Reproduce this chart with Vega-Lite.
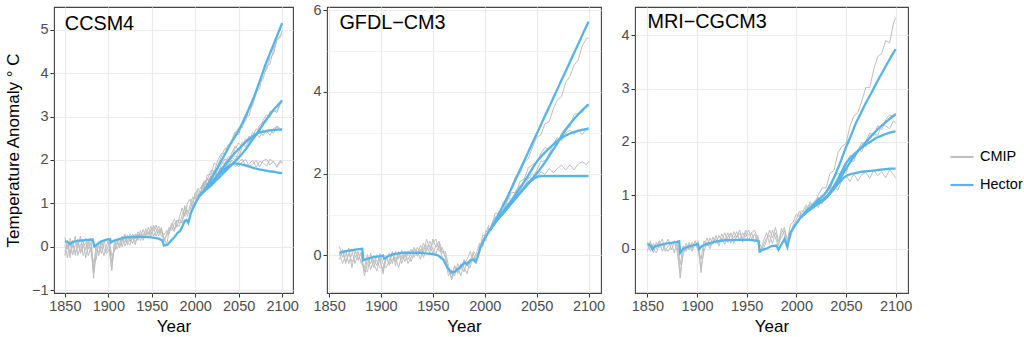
{
"$schema":"https://vega.github.io/schema/vega-lite/v6.json",
"background":"white",
"padding":{"left":3,"top":1,"right":5,"bottom":3},
"bounds":"flush",
"spacing":34,
"config":{
 "font":"Liberation Sans",
 "view":{"stroke":"#444444","strokeWidth":1.1},
 "axis":{"domain":false,"tickColor":"#333333","tickSize":4,"tickWidth":1,"labelColor":"#4d4d4d","labelFontSize":14.5,"labelPadding":2,"titleFontSize":17,"titleFontWeight":"normal","titleColor":"#000000","gridColor":"#ebebeb","labelFont":"Liberation Sans","titleFont":"Liberation Sans"},
 "legend":{"labelFont":"Liberation Sans"}
},
"datasets":{
"cc_h":[
{"yr":1850,"a":0.22,"b":-0.2,"c":0.05,"d":-0.1},{"yr":1853,"a":-0.05,"b":0.15,"c":-0.25,"d":0.05},{"yr":1856,"a":0.12,"b":-0.25,"c":0.2,"d":-0.15},{"yr":1859,"a":-0.18,"b":0.05,"c":0.0,"d":0.15},{"yr":1862,"a":0.05,"b":-0.12,"c":0.25,"d":-0.2},{"yr":1865,"a":0.18,"b":0.02,"c":-0.2,"d":0.1},{"yr":1868,"a":-0.1,"b":0.25,"c":0.05,"d":-0.15},{"yr":1871,"a":0.08,"b":-0.2,"c":0.15,"d":0.0},{"yr":1874,"a":0.2,"b":-0.02,"c":-0.25,"d":0.1},{"yr":1877,"a":-0.05,"b":0.15,"c":0.05,"d":-0.2},{"yr":1880,"a":0.1,"b":-0.12,"c":0.2,"d":0.0},{"yr":1883,"a":-0.72,"b":-0.35,"c":-0.5,"d":-0.6},{"yr":1886,"a":-0.1,"b":-0.3,"c":0.05,"d":-0.15},{"yr":1889,"a":0.05,"b":0.12,"c":-0.2,"d":-0.1},{"yr":1892,"a":-0.15,"b":0.0,"c":0.15,"d":0.05},{"yr":1895,"a":0.1,"b":-0.2,"c":-0.05,"d":0.15},{"yr":1898,"a":0.18,"b":0.05,"c":-0.15,"d":-0.1},{"yr":1901,"a":0.0,"b":0.15,"c":-0.05,"d":0.1},{"yr":1904,"a":-0.5,"b":-0.2,"c":-0.55,"d":-0.35},{"yr":1907,"a":0.05,"b":-0.1,"c":0.15,"d":-0.05},{"yr":1910,"a":0.15,"b":0.05,"c":-0.05,"d":0.1},{"yr":1913,"a":-0.02,"b":0.2,"c":0.1,"d":0.05},{"yr":1916,"a":0.2,"b":0.0,"c":0.25,"d":0.12},{"yr":1919,"a":0.1,"b":0.25,"c":0.02,"d":0.3},{"yr":1922,"a":0.28,"b":0.05,"c":0.15,"d":0.1},{"yr":1925,"a":0.12,"b":0.22,"c":0.3,"d":0.05},{"yr":1928,"a":0.3,"b":0.08,"c":0.2,"d":0.25},{"yr":1931,"a":0.18,"b":0.3,"c":0.05,"d":0.12},{"yr":1934,"a":0.35,"b":0.15,"c":0.3,"d":0.22},{"yr":1937,"a":0.22,"b":0.38,"c":0.15,"d":0.3},{"yr":1940,"a":0.4,"b":0.2,"c":0.3,"d":0.15},{"yr":1943,"a":0.25,"b":0.42,"c":0.35,"d":0.3},{"yr":1946,"a":0.45,"b":0.28,"c":0.2,"d":0.35},{"yr":1949,"a":0.3,"b":0.48,"c":0.4,"d":0.25},{"yr":1952,"a":0.38,"b":0.25,"c":0.45,"d":0.5},{"yr":1955,"a":0.5,"b":0.35,"c":0.25,"d":0.4},{"yr":1958,"a":0.32,"b":0.48,"c":0.4,"d":0.25},{"yr":1961,"a":0.42,"b":0.25,"c":0.35,"d":0.45},{"yr":1964,"a":0.12,"b":0.22,"c":0.28,"d":0.18},{"yr":1967,"a":0.3,"b":0.05,"c":0.38,"d":0.25},{"yr":1970,"a":0.45,"b":0.35,"c":0.3,"d":0.4},{"yr":1973,"a":0.38,"b":0.55,"c":0.5,"d":0.45},{"yr":1976,"a":0.55,"b":0.4,"c":0.65,"d":0.35},{"yr":1979,"a":0.5,"b":0.62,"c":0.45,"d":0.6},{"yr":1982,"a":0.48,"b":0.55,"c":0.7,"d":0.62},{"yr":1985,"a":0.75,"b":0.6,"c":0.9,"d":0.55},{"yr":1988,"a":0.9,"b":0.8,"c":0.7,"d":0.95},{"yr":1991,"a":0.7,"b":0.85,"c":1.0,"d":0.8},{"yr":1994,"a":0.95,"b":0.75,"c":1.1,"d":0.85},{"yr":1997,"a":1.15,"b":0.95,"c":0.9,"d":1.05},{"yr":2000,"a":1.1,"b":1.25,"c":1.05,"d":1.2},{"yr":2003,"a":1.3,"b":1.15,"c":1.2,"d":1.35},{"yr":2005,"a":1.35,"b":1.3,"c":1.25,"d":1.28}],
"cc_f":[
{"yr":2006,"p1":1.36,"p2":1.23,"q1":1.33,"q2":1.26,"r1":1.23,"r2":1.36,"s1":1.26,"s2":1.33},
{"yr":2010,"p1":1.38,"p2":1.51,"q1":1.49,"q2":1.41,"r1":1.47,"r2":1.34,"s1":1.42,"s2":1.5},
{"yr":2014,"p1":1.66,"p2":1.55,"q1":1.41,"q2":1.55,"r1":1.45,"r2":1.56,"s1":1.58,"s2":1.44},
{"yr":2018,"p1":1.67,"p2":1.76,"q1":1.6,"q2":1.46,"r1":1.62,"r2":1.53,"s1":1.5,"s2":1.64},
{"yr":2022,"p1":1.93,"p2":1.74,"q1":1.71,"q2":1.69,"r1":1.56,"r2":1.75,"s1":1.73,"s2":1.75},
{"yr":2026,"p1":1.87,"p2":2.0,"q1":1.62,"q2":1.81,"r1":1.8,"r2":1.67,"s1":1.83,"s2":1.64},
{"yr":2030,"p1":2.09,"p2":2.15,"q1":1.82,"q2":1.74,"r1":1.95,"r2":1.89,"s1":1.74,"s2":1.82},
{"yr":2034,"p1":2.26,"p2":2.15,"q1":1.81,"q2":1.92,"r1":1.91,"r2":2.02,"s1":1.9,"s2":1.79},
{"yr":2038,"p1":2.27,"p2":2.36,"q1":2.01,"q2":1.89,"r1":2.08,"r2":1.99,"s1":1.85,"s2":1.97},
{"yr":2042,"p1":2.47,"p2":2.37,"q1":2.05,"q2":2.09,"r1":2.06,"r2":2.16,"s1":2.0,"s2":1.96},
{"yr":2046,"p1":2.65,"p2":2.6,"q1":2.0,"q2":2.09,"r1":2.27,"r2":2.32,"s1":1.93,"s2":1.84},
{"yr":2050,"p1":2.58,"p2":2.74,"q1":2.18,"q2":2.07,"r1":2.39,"r2":2.23,"s1":1.84,"s2":1.95},
{"yr":2054,"p1":2.84,"p2":2.74,"q1":2.35,"q2":2.29,"r1":2.31,"r2":2.41,"s1":1.96,"s2":2.02},
{"yr":2058,"p1":2.89,"p2":3.0,"q1":2.31,"q2":2.44,"r1":2.49,"r2":2.38,"s1":2.01,"s2":1.88},
{"yr":2062,"p1":3.18,"p2":3.02,"q1":2.43,"q2":2.4,"r1":2.39,"r2":2.55,"s1":1.87,"s2":1.9},
{"yr":2066,"p1":3.24,"p2":3.33,"q1":2.63,"q2":2.52,"r1":2.54,"r2":2.45,"s1":1.89,"s2":2.0},
{"yr":2070,"p1":3.53,"p2":3.56,"q1":2.56,"q2":2.72,"r1":2.61,"r2":2.58,"s1":1.99,"s2":1.83},
{"yr":2074,"p1":3.79,"p2":3.64,"q1":2.8,"q2":2.67,"r1":2.52,"r2":2.67,"s1":1.84,"s2":1.97},
{"yr":2078,"p1":3.85,"p2":3.99,"q1":2.87,"q2":2.91,"r1":2.7,"r2":2.56,"s1":1.98,"s2":1.94},
{"yr":2082,"p1":4.16,"p2":4.08,"q1":2.88,"q2":3.04,"r1":2.61,"r2":2.69,"s1":2.02,"s2":1.86},
{"yr":2086,"p1":4.21,"p2":4.35,"q1":3.12,"q2":2.98,"r1":2.71,"r2":2.57,"s1":1.88,"s2":2.02},
{"yr":2090,"p1":4.54,"p2":4.43,"q1":3.13,"q2":3.15,"r1":2.61,"r2":2.72,"s1":1.97,"s2":1.95},
{"yr":2094,"p1":4.75,"p2":4.76,"q1":3.13,"q2":3.09,"r1":2.78,"r2":2.77,"s1":1.83,"s2":1.87},
{"yr":2098,"p1":4.83,"p2":4.87,"q1":3.33,"q2":3.29,"r1":2.72,"r2":2.68,"s1":1.95,"s2":1.99},
{"yr":2100,"p1":4.97,"p2":4.92,"q1":3.3,"q2":3.35,"r1":2.69,"r2":2.74,"s1":1.97,"s2":1.92}],
"cc_hh":[
{"yr":1850,"v":0.13},{"yr":1853,"v":0.12},{"yr":1856,"v":0.06},{"yr":1858,"v":0.1},{"yr":1862,"v":0.13},{"yr":1870,"v":0.15},{"yr":1876,"v":0.16},{"yr":1882,"v":0.17},{"yr":1884,"v":0.01},{"yr":1887,"v":0.06},{"yr":1892,"v":0.13},{"yr":1898,"v":0.17},{"yr":1902,"v":0.18},{"yr":1903,"v":0.1},{"yr":1906,"v":0.14},{"yr":1912,"v":0.18},{"yr":1920,"v":0.22},{"yr":1930,"v":0.23},{"yr":1940,"v":0.23},{"yr":1950,"v":0.22},{"yr":1958,"v":0.19},{"yr":1962,"v":0.15},{"yr":1964,"v":0.03},{"yr":1968,"v":0.05},{"yr":1972,"v":0.14},{"yr":1976,"v":0.22},{"yr":1980,"v":0.33},{"yr":1982,"v":0.35},{"yr":1984,"v":0.42},{"yr":1988,"v":0.6},{"yr":1990,"v":0.62},{"yr":1992,"v":0.55},{"yr":1995,"v":0.78},{"yr":2000,"v":1.0},{"yr":2005,"v":1.18}],
"cc_hf":[
{"yr":2005,"h26":1.18,"h45":1.18,"h60":1.18,"h85":1.18},{"yr":2010,"h26":1.28,"h45":1.28,"h60":1.27,"h85":1.3},{"yr":2015,"h26":1.39,"h45":1.39,"h60":1.36,"h85":1.45},{"yr":2020,"h26":1.5,"h45":1.5,"h60":1.45,"h85":1.62},{"yr":2025,"h26":1.62,"h45":1.64,"h60":1.55,"h85":1.8},{"yr":2030,"h26":1.72,"h45":1.78,"h60":1.65,"h85":1.98},{"yr":2035,"h26":1.81,"h45":1.91,"h60":1.75,"h85":2.16},{"yr":2040,"h26":1.88,"h45":2.03,"h60":1.85,"h85":2.35},{"yr":2045,"h26":1.92,"h45":2.15,"h60":1.95,"h85":2.51},{"yr":2050,"h26":1.91,"h45":2.25,"h60":2.05,"h85":2.68},{"yr":2055,"h26":1.89,"h45":2.35,"h60":2.17,"h85":2.88},{"yr":2060,"h26":1.86,"h45":2.45,"h60":2.3,"h85":3.1},{"yr":2065,"h26":1.83,"h45":2.53,"h60":2.44,"h85":3.33},{"yr":2070,"h26":1.8,"h45":2.6,"h60":2.58,"h85":3.58},{"yr":2075,"h26":1.78,"h45":2.64,"h60":2.73,"h85":3.86},{"yr":2080,"h26":1.76,"h45":2.66,"h60":2.88,"h85":4.15},{"yr":2085,"h26":1.74,"h45":2.68,"h60":3.02,"h85":4.4},{"yr":2090,"h26":1.73,"h45":2.69,"h60":3.15,"h85":4.65},{"yr":2095,"h26":1.71,"h45":2.7,"h60":3.26,"h85":4.9},{"yr":2100,"h26":1.7,"h45":2.7,"h60":3.37,"h85":5.15}],
"gf_h":[
{"yr":1860,"a":0.22,"b":-0.1,"c":0.05,"d":0.0},{"yr":1863,"a":-0.05,"b":0.15,"c":-0.2,"d":0.1},{"yr":1866,"a":0.12,"b":-0.2,"c":0.02,"d":-0.15},{"yr":1869,"a":-0.2,"b":0.05,"c":0.18,"d":0.05},{"yr":1872,"a":0.05,"b":-0.15,"c":-0.3,"d":0.12},{"yr":1875,"a":0.15,"b":-0.05,"c":0.1,"d":-0.2},{"yr":1878,"a":-0.12,"b":0.1,"c":-0.05,"d":0.05},{"yr":1881,"a":0.08,"b":-0.2,"c":-0.12,"d":0.0},{"yr":1884,"a":-0.5,"b":-0.3,"c":-0.35,"d":-0.4},{"yr":1887,"a":-0.2,"b":0.02,"c":-0.4,"d":-0.1},{"yr":1890,"a":-0.05,"b":-0.35,"c":0.05,"d":-0.2},{"yr":1893,"a":-0.3,"b":-0.1,"c":-0.2,"d":0.0},{"yr":1896,"a":0.02,"b":-0.25,"c":-0.38,"d":-0.15},{"yr":1899,"a":-0.15,"b":0.05,"c":-0.05,"d":-0.3},{"yr":1902,"a":-0.4,"b":-0.2,"c":-0.45,"d":-0.3},{"yr":1905,"a":-0.1,"b":-0.3,"c":0.0,"d":-0.05},{"yr":1908,"a":0.05,"b":-0.12,"c":-0.25,"d":-0.2},{"yr":1911,"a":-0.2,"b":0.1,"c":-0.1,"d":0.05},{"yr":1914,"a":0.1,"b":-0.25,"c":-0.05,"d":-0.15},{"yr":1917,"a":-0.08,"b":0.05,"c":-0.3,"d":0.1},{"yr":1920,"a":0.12,"b":-0.1,"c":0.0,"d":-0.2},{"yr":1923,"a":-0.15,"b":0.08,"c":-0.05,"d":0.02},{"yr":1926,"a":0.05,"b":-0.2,"c":0.1,"d":-0.1},{"yr":1929,"a":0.15,"b":-0.05,"c":-0.15,"d":0.05},{"yr":1932,"a":-0.05,"b":0.15,"c":0.05,"d":0.2},{"yr":1935,"a":0.2,"b":-0.02,"c":0.1,"d":0.05},{"yr":1938,"a":0.05,"b":0.25,"c":-0.1,"d":0.15},{"yr":1941,"a":0.3,"b":0.08,"c":0.2,"d":-0.05},{"yr":1944,"a":0.1,"b":0.4,"c":0.25,"d":0.2},{"yr":1947,"a":0.35,"b":0.15,"c":0.05,"d":0.25},{"yr":1950,"a":0.15,"b":0.3,"c":0.4,"d":0.05},{"yr":1953,"a":0.05,"b":0.4,"c":0.2,"d":0.25},{"yr":1956,"a":0.25,"b":0.1,"c":0.3,"d":0.35},{"yr":1959,"a":-0.05,"b":0.2,"c":0.05,"d":0.1},{"yr":1962,"a":-0.15,"b":-0.05,"c":0.1,"d":0.0},{"yr":1965,"a":-0.3,"b":-0.5,"c":-0.25,"d":-0.4},{"yr":1968,"a":-0.55,"b":-0.35,"c":-0.6,"d":-0.45},{"yr":1971,"a":-0.25,"b":-0.5,"c":-0.4,"d":-0.3},{"yr":1974,"a":-0.4,"b":-0.2,"c":-0.3,"d":-0.45},{"yr":1977,"a":-0.2,"b":-0.35,"c":-0.5,"d":-0.25},{"yr":1980,"a":-0.3,"b":-0.1,"c":-0.2,"d":-0.4},{"yr":1983,"a":-0.45,"b":-0.25,"c":-0.1,"d":-0.15},{"yr":1986,"a":-0.1,"b":-0.3,"c":0.1,"d":-0.2},{"yr":1989,"a":0.05,"b":0.1,"c":-0.15,"d":-0.05},{"yr":1992,"a":-0.2,"b":0.0,"c":0.05,"d":-0.1},{"yr":1995,"a":0.25,"b":0.1,"c":0.3,"d":0.15},{"yr":1998,"a":0.35,"b":0.5,"c":0.2,"d":0.4},{"yr":2001,"a":0.55,"b":0.45,"c":0.6,"d":0.35},{"yr":2004,"a":0.75,"b":0.65,"c":0.55,"d":0.7}],
"gf_f":[
{"yr":2006,"p":0.68,"q":0.73,"r":0.66,"s":0.76},{"yr":2010,"p":1.03,"q":0.95,"r":0.87,"s":0.8},{"yr":2014,"p":1.03,"q":0.89,"r":1.08,"s":1.09},{"yr":2018,"p":1.31,"q":1.09,"r":1.05,"s":1.12},{"yr":2022,"p":1.36,"q":1.27,"r":1.35,"s":1.4},{"yr":2026,"p":1.7,"q":1.25,"r":1.54,"s":1.37},{"yr":2030,"p":1.95,"q":1.52,"r":1.54,"s":1.59},{"yr":2034,"p":2.01,"q":1.55,"r":1.81,"s":1.72},{"yr":2038,"p":2.28,"q":1.84,"r":1.87,"s":1.69},{"yr":2042,"p":2.37,"q":1.91,"r":2.15,"s":1.87},{"yr":2046,"p":2.65,"q":1.88,"r":2.22,"s":2.0},{"yr":2050,"p":2.89,"q":2.08,"r":2.27,"s":1.88},{"yr":2054,"p":2.95,"q":2.3,"r":2.49,"s":2.05},{"yr":2058,"p":3.22,"q":2.31,"r":2.64,"s":1.98},{"yr":2062,"p":3.27,"q":2.48,"r":2.6,"s":2.13},{"yr":2066,"p":3.58,"q":2.73,"r":2.72,"s":2.02},{"yr":2070,"p":3.81,"q":2.71,"r":2.89,"s":2.13},{"yr":2074,"p":3.89,"q":3.0,"r":2.8,"s":2.21},{"yr":2078,"p":4.24,"q":3.12,"r":2.99,"s":2.09},{"yr":2082,"p":4.38,"q":3.14,"r":3.07,"s":2.22},{"yr":2086,"p":4.65,"q":3.45,"r":2.96,"s":2.09},{"yr":2090,"p":4.78,"q":3.48,"r":3.08,"s":2.24},{"yr":2094,"p":5.13,"q":3.5,"r":2.96,"s":2.29},{"yr":2098,"p":5.31,"q":3.69,"r":3.1,"s":2.22},{"yr":2100,"p":5.32,"q":3.65,"r":3.13,"s":2.3}],
"gf_hh":[
{"yr":1860,"v":0.06},{"yr":1865,"v":0.1},{"yr":1875,"v":0.14},{"yr":1882,"v":0.16},{"yr":1883,"v":-0.12},{"yr":1888,"v":-0.07},{"yr":1893,"v":-0.04},{"yr":1900,"v":-0.02},{"yr":1902,"v":0.0},{"yr":1903,"v":-0.08},{"yr":1907,"v":-0.02},{"yr":1912,"v":0.03},{"yr":1922,"v":0.07},{"yr":1938,"v":0.06},{"yr":1950,"v":0.03},{"yr":1955,"v":0.0},{"yr":1960,"v":-0.1},{"yr":1964,"v":-0.3},{"yr":1968,"v":-0.42},{"yr":1971,"v":-0.4},{"yr":1977,"v":-0.27},{"yr":1981,"v":-0.17},{"yr":1983,"v":-0.22},{"yr":1986,"v":-0.12},{"yr":1989,"v":-0.1},{"yr":1991,"v":-0.16},{"yr":1993,"v":-0.05},{"yr":1996,"v":0.2},{"yr":2000,"v":0.42},{"yr":2005,"v":0.62}],
"gf_hf":[
{"yr":2005,"h26":0.62,"h45":0.62,"h60":0.62,"h85":0.62},{"yr":2010,"h26":0.8,"h45":0.82,"h60":0.8,"h85":0.85},{"yr":2015,"h26":0.95,"h45":0.98,"h60":0.95,"h85":1.08},{"yr":2020,"h26":1.1,"h45":1.15,"h60":1.1,"h85":1.34},{"yr":2025,"h26":1.25,"h45":1.32,"h60":1.26,"h85":1.6},{"yr":2030,"h26":1.4,"h45":1.5,"h60":1.42,"h85":1.87},{"yr":2035,"h26":1.55,"h45":1.69,"h60":1.57,"h85":2.15},{"yr":2040,"h26":1.7,"h45":1.88,"h60":1.72,"h85":2.42},{"yr":2045,"h26":1.83,"h45":2.09,"h60":1.86,"h85":2.7},{"yr":2050,"h26":1.92,"h45":2.29,"h60":2.0,"h85":2.97},{"yr":2055,"h26":1.94,"h45":2.44,"h60":2.17,"h85":3.25},{"yr":2060,"h26":1.94,"h45":2.57,"h60":2.35,"h85":3.52},{"yr":2065,"h26":1.94,"h45":2.69,"h60":2.55,"h85":3.8},{"yr":2070,"h26":1.94,"h45":2.8,"h60":2.75,"h85":4.07},{"yr":2075,"h26":1.94,"h45":2.89,"h60":2.96,"h85":4.35},{"yr":2080,"h26":1.94,"h45":2.96,"h60":3.15,"h85":4.62},{"yr":2085,"h26":1.94,"h45":3.01,"h60":3.31,"h85":4.9},{"yr":2090,"h26":1.94,"h45":3.05,"h60":3.45,"h85":5.17},{"yr":2095,"h26":1.94,"h45":3.08,"h60":3.58,"h85":5.45},{"yr":2100,"h26":1.94,"h45":3.1,"h60":3.7,"h85":5.72}],
"mr_h":[
{"yr":1850,"a":0.12,"b":-0.05,"c":0.05},{"yr":1853,"a":-0.05,"b":0.15,"c":0.1},{"yr":1856,"a":0.1,"b":-0.08,"c":0.0},{"yr":1859,"a":0.0,"b":0.12,"c":-0.08},{"yr":1862,"a":0.15,"b":0.02,"c":0.08},{"yr":1865,"a":-0.05,"b":0.1,"c":0.18},{"yr":1868,"a":0.08,"b":-0.05,"c":0.0},{"yr":1871,"a":0.18,"b":0.05,"c":-0.05},{"yr":1874,"a":-0.02,"b":0.12,"c":0.08},{"yr":1877,"a":0.1,"b":-0.08,"c":0.15},{"yr":1880,"a":0.05,"b":0.15,"c":-0.05},{"yr":1883,"a":-0.55,"b":-0.3,"c":-0.45},{"yr":1886,"a":-0.05,"b":0.05,"c":-0.1},{"yr":1889,"a":0.1,"b":-0.05,"c":0.02},{"yr":1892,"a":-0.02,"b":0.12,"c":0.08},{"yr":1895,"a":0.12,"b":0.0,"c":-0.05},{"yr":1898,"a":0.05,"b":0.15,"c":0.1},{"yr":1901,"a":0.15,"b":0.02,"c":-0.02},{"yr":1904,"a":-0.45,"b":-0.2,"c":-0.35},{"yr":1907,"a":0.05,"b":0.15,"c":-0.05},{"yr":1910,"a":0.2,"b":0.05,"c":0.12},{"yr":1913,"a":0.05,"b":0.2,"c":0.0},{"yr":1916,"a":0.22,"b":0.08,"c":0.15},{"yr":1919,"a":0.1,"b":0.25,"c":0.18},{"yr":1922,"a":0.25,"b":0.1,"c":0.05},{"yr":1925,"a":0.15,"b":0.28,"c":0.2},{"yr":1928,"a":0.3,"b":0.15,"c":0.08},{"yr":1931,"a":0.12,"b":0.3,"c":0.22},{"yr":1934,"a":0.28,"b":0.1,"c":0.3},{"yr":1937,"a":0.2,"b":0.32,"c":0.1},{"yr":1940,"a":0.32,"b":0.2,"c":0.25},{"yr":1943,"a":0.15,"b":0.35,"c":0.28},{"yr":1946,"a":0.3,"b":0.12,"c":0.2},{"yr":1949,"a":0.22,"b":0.3,"c":0.35},{"yr":1952,"a":0.35,"b":0.15,"c":0.25},{"yr":1955,"a":0.18,"b":0.3,"c":0.3},{"yr":1958,"a":0.28,"b":0.12,"c":0.35},{"yr":1961,"a":0.12,"b":0.25,"c":0.2},{"yr":1964,"a":-0.05,"b":0.05,"c":-0.08},{"yr":1967,"a":0.15,"b":0.0,"c":0.08},{"yr":1970,"a":0.3,"b":0.15,"c":0.2},{"yr":1973,"a":0.1,"b":0.35,"c":0.25},{"yr":1976,"a":0.35,"b":0.2,"c":0.1},{"yr":1979,"a":0.2,"b":0.4,"c":0.3},{"yr":1982,"a":0.05,"b":0.15,"c":0.1},{"yr":1985,"a":0.3,"b":0.2,"c":0.38},{"yr":1988,"a":0.4,"b":0.35,"c":0.25},{"yr":1991,"a":0.15,"b":0.05,"c":0.1},{"yr":1994,"a":0.45,"b":0.3,"c":0.2},{"yr":1997,"a":0.5,"b":0.45,"c":0.4},{"yr":2000,"a":0.65,"b":0.55,"c":0.5},{"yr":2003,"a":0.6,"b":0.7,"c":0.58},{"yr":2005,"a":0.72,"b":0.65,"c":0.68}],
"mr_f":[
{"yr":2006,"p":0.61,"q":0.71,"r":0.68,"s":0.58},{"yr":2010,"p":0.72,"q":0.65,"r":0.82,"s":0.78},{"yr":2014,"p":0.88,"q":0.84,"r":0.72,"s":0.73},{"yr":2018,"p":0.75,"q":0.77,"r":0.88,"s":0.86},{"yr":2022,"p":1.0,"q":0.95,"r":0.97,"s":0.77},{"yr":2026,"p":1.14,"q":0.84,"r":0.88,"s":0.97},{"yr":2030,"p":1.14,"q":1.04,"r":1.08,"s":1.08},{"yr":2034,"p":1.41,"q":1.15,"r":1.1,"s":1.01},{"yr":2038,"p":1.47,"q":1.12,"r":1.34,"s":1.15},{"yr":2042,"p":1.8,"q":1.3,"r":1.41,"s":1.1},{"yr":2046,"p":1.92,"q":1.48,"r":1.38,"s":1.29},{"yr":2050,"p":1.97,"q":1.41,"r":1.58,"s":1.37},{"yr":2054,"p":2.29,"q":1.63,"r":1.75,"s":1.26},{"yr":2058,"p":2.49,"q":1.64,"r":1.71,"s":1.4},{"yr":2062,"p":2.55,"q":1.86,"r":1.82,"s":1.27},{"yr":2066,"p":2.77,"q":1.82,"r":2.0,"s":1.39},{"yr":2070,"p":3.02,"q":2.01,"r":1.91,"s":1.43},{"yr":2074,"p":3.02,"q":2.17,"r":2.12,"s":1.32},{"yr":2078,"p":3.36,"q":2.12,"r":2.15,"s":1.47},{"yr":2082,"p":3.6,"q":2.31,"r":2.12,"s":1.37},{"yr":2086,"p":3.66,"q":2.23,"r":2.33,"s":1.44},{"yr":2090,"p":3.9,"q":2.42,"r":2.3,"s":1.33},{"yr":2094,"p":3.86,"q":2.51,"r":2.25,"s":1.48},{"yr":2098,"p":4.23,"q":2.47,"r":2.4,"s":1.39},{"yr":2100,"p":4.33,"q":2.54,"r":2.35,"s":1.32}],
"mr_hh":[
{"yr":1850,"v":0.09},{"yr":1853,"v":0.06},{"yr":1855,"v":-0.01},{"yr":1857,"v":0.04},{"yr":1860,"v":0.06},{"yr":1870,"v":0.1},{"yr":1880,"v":0.13},{"yr":1882,"v":0.14},{"yr":1883,"v":-0.08},{"yr":1886,"v":0.0},{"yr":1890,"v":0.03},{"yr":1895,"v":0.06},{"yr":1900,"v":0.08},{"yr":1901,"v":0.09},{"yr":1902,"v":-0.01},{"yr":1905,"v":0.05},{"yr":1910,"v":0.09},{"yr":1920,"v":0.14},{"yr":1930,"v":0.16},{"yr":1950,"v":0.17},{"yr":1960,"v":0.15},{"yr":1962,"v":0.14},{"yr":1963,"v":-0.05},{"yr":1966,"v":-0.02},{"yr":1970,"v":0.0},{"yr":1975,"v":0.05},{"yr":1980,"v":0.06},{"yr":1982,"v":-0.02},{"yr":1985,"v":0.08},{"yr":1988,"v":0.18},{"yr":1991,"v":0.03},{"yr":1994,"v":0.3},{"yr":2000,"v":0.47},{"yr":2005,"v":0.6}],
"mr_hf":[
{"yr":2005,"h26":0.6,"h45":0.6,"h60":0.6,"h85":0.6},{"yr":2010,"h26":0.68,"h45":0.68,"h60":0.68,"h85":0.7},{"yr":2015,"h26":0.75,"h45":0.76,"h60":0.75,"h85":0.79},{"yr":2020,"h26":0.82,"h45":0.84,"h60":0.82,"h85":0.88},{"yr":2025,"h26":0.88,"h45":0.9,"h60":0.88,"h85":0.96},{"yr":2030,"h26":0.95,"h45":0.97,"h60":0.95,"h85":1.06},{"yr":2035,"h26":1.06,"h45":1.09,"h60":1.06,"h85":1.22},{"yr":2040,"h26":1.17,"h45":1.24,"h60":1.18,"h85":1.42},{"yr":2045,"h26":1.28,"h45":1.42,"h60":1.34,"h85":1.65},{"yr":2050,"h26":1.36,"h45":1.6,"h60":1.5,"h85":1.9},{"yr":2055,"h26":1.4,"h45":1.71,"h60":1.64,"h85":2.12},{"yr":2060,"h26":1.42,"h45":1.8,"h60":1.78,"h85":2.35},{"yr":2065,"h26":1.44,"h45":1.88,"h60":1.89,"h85":2.54},{"yr":2070,"h26":1.45,"h45":1.95,"h60":2.0,"h85":2.73},{"yr":2075,"h26":1.46,"h45":2.01,"h60":2.1,"h85":2.9},{"yr":2080,"h26":1.47,"h45":2.07,"h60":2.2,"h85":3.08},{"yr":2085,"h26":1.48,"h45":2.11,"h60":2.29,"h85":3.25},{"yr":2090,"h26":1.49,"h45":2.15,"h60":2.37,"h85":3.42},{"yr":2095,"h26":1.5,"h45":2.18,"h60":2.45,"h85":3.58},{"yr":2100,"h26":1.5,"h45":2.2,"h60":2.52,"h85":3.74}]
},
"hconcat":[
{"width":239,"height":286,
 "layer":[
  {"data":{"name":"cc_h"},"transform":[{"fold":["a","b","c","d"],"as":["run","v"]}],
   "mark":{"type":"line","strokeWidth":1},
   "encoding":{
    "x":{"field":"yr","type":"quantitative","scale":{"domain":[1837.5,2112.5],"nice":false,"zero":false},
      "axis":{"title":"Year","values":[1850,1875,1900,1925,1950,1975,2000,2025,2050,2075,2100],"format":"d","labelExpr":"datum.value % 50 === 0 ? datum.label : ''","tickOpacity":{"condition":{"test":"datum.value % 50 !== 0","value":0},"value":1},"gridWidth":{"condition":{"test":"datum.value % 50 !== 0","value":0.6},"value":1.2},"titlePadding":6}},
    "y":{"field":"v","type":"quantitative","scale":{"domain":[-1.06,5.52],"nice":false,"zero":false},
      "axis":{"title":"Temperature Anomaly ° C","values":[-1,-0.5,0,0.5,1,1.5,2,2.5,3,3.5,4,4.5,5,5.5],"format":"d","labelExpr":"datum.value % 1 === 0 ? datum.label : ''","tickOpacity":{"condition":{"test":"datum.value % 1 !== 0","value":0},"value":1},"gridWidth":{"condition":{"test":"datum.value % 1 !== 0","value":0.6},"value":1.2},"titlePadding":9}},
    "detail":{"field":"run"},
    "color":{"datum":"CMIP","type":"nominal","scale":{"domain":["CMIP","Hector"],"range":["#bebebe","#56b4e9"]},
      "legend":{"orient":"none","legendX":895,"legendY":137,"title":null,"symbolType":"stroke","symbolSize":529,"symbolStrokeWidth":2.2,"labelFontSize":14.5,"labelColor":"#000000","labelOffset":5,"rowPadding":8}}}},
  {"data":{"name":"cc_f"},"transform":[{"fold":["p1","p2","q1","q2","r1","r2","s1","s2"],"as":["run","v"]}],
   "mark":{"type":"line","strokeWidth":1},
   "encoding":{"x":{"field":"yr","type":"quantitative"},"y":{"field":"v","type":"quantitative"},"detail":{"field":"run"},"color":{"datum":"CMIP","type":"nominal"}}},
  {"data":{"name":"cc_hh"},
   "mark":{"type":"line","strokeWidth":2.3},
   "encoding":{"x":{"field":"yr","type":"quantitative"},"y":{"field":"v","type":"quantitative"},"color":{"datum":"Hector","type":"nominal"}}},
  {"data":{"name":"cc_hf"},"transform":[{"fold":["h26","h45","h60","h85"],"as":["run","v"]}],
   "mark":{"type":"line","strokeWidth":2.3,"interpolate":"monotone"},
   "encoding":{"x":{"field":"yr","type":"quantitative"},"y":{"field":"v","type":"quantitative"},"detail":{"field":"run"},"color":{"datum":"Hector","type":"nominal"}}},
  {"data":{"values":[{"model":"CCSM4"}]},
   "mark":{"type":"text","align":"left","baseline":"alphabetic","fontSize":19.8,"color":"#000000"},
   "encoding":{"x":{"datum":1850},"y":{"datum":5.0},"text":{"field":"model"}}}
 ]},
{"width":274,"height":286,
 "layer":[
  {"data":{"name":"gf_h"},"transform":[{"fold":["a","b","c","d"],"as":["run","v"]}],
   "mark":{"type":"line","strokeWidth":1},
   "encoding":{
    "x":{"field":"yr","type":"quantitative","scale":{"domain":[1848,2112],"nice":false,"zero":false},
      "axis":{"title":"Year","values":[1850,1875,1900,1925,1950,1975,2000,2025,2050,2075,2100],"format":"d","labelExpr":"datum.value % 50 === 0 ? datum.label : ''","tickOpacity":{"condition":{"test":"datum.value % 50 !== 0","value":0},"value":1},"gridWidth":{"condition":{"test":"datum.value % 50 !== 0","value":0.6},"value":1.2},"titlePadding":6}},
    "y":{"field":"v","type":"quantitative","scale":{"domain":[-0.92,6.08],"nice":false,"zero":false},
      "axis":{"title":null,"values":[0,1,2,3,4,5,6],"format":"d","labelExpr":"datum.value % 2 === 0 ? datum.label : ''","tickOpacity":{"condition":{"test":"datum.value % 2 !== 0","value":0},"value":1},"gridWidth":{"condition":{"test":"datum.value % 2 !== 0","value":0.6},"value":1.2}}},
    "detail":{"field":"run"},
    "color":{"datum":"CMIP","type":"nominal"}}},
  {"data":{"name":"gf_f"},"transform":[{"fold":["p","q","r","s"],"as":["run","v"]}],
   "mark":{"type":"line","strokeWidth":1},
   "encoding":{"x":{"field":"yr","type":"quantitative"},"y":{"field":"v","type":"quantitative"},"detail":{"field":"run"},"color":{"datum":"CMIP","type":"nominal"}}},
  {"data":{"name":"gf_hh"},
   "mark":{"type":"line","strokeWidth":2.3},
   "encoding":{"x":{"field":"yr","type":"quantitative"},"y":{"field":"v","type":"quantitative"},"color":{"datum":"Hector","type":"nominal"}}},
  {"data":{"name":"gf_hf"},"transform":[{"fold":["h26","h45","h60","h85"],"as":["run","v"]}],
   "mark":{"type":"line","strokeWidth":2.3,"interpolate":"monotone"},
   "encoding":{"x":{"field":"yr","type":"quantitative"},"y":{"field":"v","type":"quantitative"},"detail":{"field":"run"},"color":{"datum":"Hector","type":"nominal"}}},
  {"data":{"values":[{"model":"GFDL−CM3"}]},
   "mark":{"type":"text","align":"left","baseline":"alphabetic","fontSize":19.8,"color":"#000000"},
   "encoding":{"x":{"datum":1860},"y":{"datum":5.55},"text":{"field":"model"}}}
 ]},
{"width":273,"height":286,
 "layer":[
  {"data":{"name":"mr_h"},"transform":[{"fold":["a","b","c"],"as":["run","v"]}],
   "mark":{"type":"line","strokeWidth":1},
   "encoding":{
    "x":{"field":"yr","type":"quantitative","scale":{"domain":[1837.5,2112.5],"nice":false,"zero":false},
      "axis":{"title":"Year","values":[1850,1875,1900,1925,1950,1975,2000,2025,2050,2075,2100],"format":"d","labelExpr":"datum.value % 50 === 0 ? datum.label : ''","tickOpacity":{"condition":{"test":"datum.value % 50 !== 0","value":0},"value":1},"gridWidth":{"condition":{"test":"datum.value % 50 !== 0","value":0.6},"value":1.2},"titlePadding":6}},
    "y":{"field":"v","type":"quantitative","scale":{"domain":[-0.83,4.53],"nice":false,"zero":false},
      "axis":{"title":null,"values":[0,0.5,1,1.5,2,2.5,3,3.5,4,4.5],"format":"d","labelExpr":"datum.value % 1 === 0 ? datum.label : ''","tickOpacity":{"condition":{"test":"datum.value % 1 !== 0","value":0},"value":1},"gridWidth":{"condition":{"test":"datum.value % 1 !== 0","value":0.6},"value":1.2}}},
    "detail":{"field":"run"},
    "color":{"datum":"CMIP","type":"nominal"}}},
  {"data":{"name":"mr_f"},"transform":[{"fold":["p","q","r","s"],"as":["run","v"]}],
   "mark":{"type":"line","strokeWidth":1},
   "encoding":{"x":{"field":"yr","type":"quantitative"},"y":{"field":"v","type":"quantitative"},"detail":{"field":"run"},"color":{"datum":"CMIP","type":"nominal"}}},
  {"data":{"name":"mr_hh"},
   "mark":{"type":"line","strokeWidth":2.3},
   "encoding":{"x":{"field":"yr","type":"quantitative"},"y":{"field":"v","type":"quantitative"},"color":{"datum":"Hector","type":"nominal"}}},
  {"data":{"name":"mr_hf"},"transform":[{"fold":["h26","h45","h60","h85"],"as":["run","v"]}],
   "mark":{"type":"line","strokeWidth":2.3,"interpolate":"monotone"},
   "encoding":{"x":{"field":"yr","type":"quantitative"},"y":{"field":"v","type":"quantitative"},"detail":{"field":"run"},"color":{"datum":"Hector","type":"nominal"}}},
  {"data":{"values":[{"model":"MRI−CGCM3"}]},
   "mark":{"type":"text","align":"left","baseline":"alphabetic","fontSize":19.8,"color":"#000000"},
   "encoding":{"x":{"datum":1850},"y":{"datum":4.13},"text":{"field":"model"}}}
 ]}
]
}
